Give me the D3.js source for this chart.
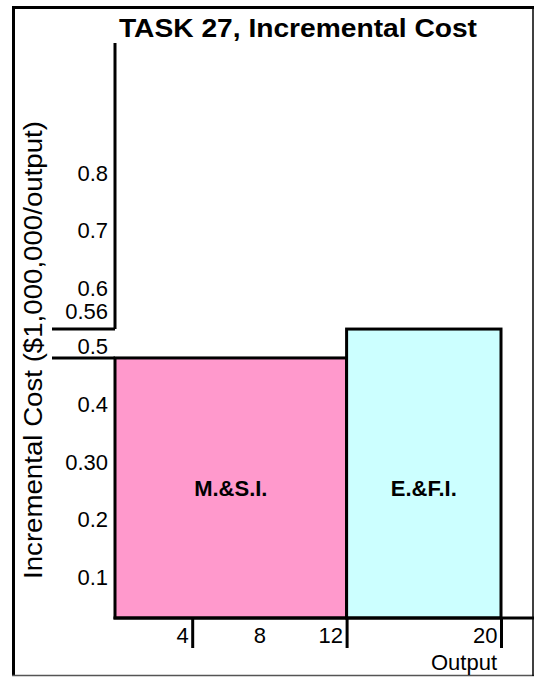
<!DOCTYPE html>
<html>
<head>
<meta charset="utf-8">
<script src="https://cdn.jsdelivr.net/npm/d3@7"></script>
<style>
  body { margin: 0; background: #fff; }
  svg text { font-family: Arial, "Liberation Sans", sans-serif; fill: #000; }
</style>
</head>
<body>
<svg id="chart" width="534" height="677"></svg>
<script>
// chart data
var segNames = ["M.&S.I.", "E.&F.I."];
var segStart = [0, 12];
var segEnd = [12, 20];
var segCost = [0.48, 0.53];
var segColors = ["#ff99cc", "#ccffff"];

var yTickValues = [0.1, 0.2, 0.3, 0.4, 0.5, 0.56, 0.6, 0.7, 0.8];
var yTickLabels = ["0.1", "0.2", "0.30", "0.4", "0.5", "0.56", "0.6", "0.7", "0.8"];
var xTickValues = [4, 8, 12, 20];
var xTickLabels = ["4", "8", "12", "20"];

var svg = d3.select("#chart");

// outer frame: thick left and top, thin bottom
svg.append("path")
  .attr("d", "M13.5,676 V7.5 H534")
  .style("fill", "none")
  .style("stroke", "#000")
  .style("stroke-width", 3);
svg.append("line")
  .attr("x1", 12).attr("x2", 534)
  .attr("y1", 675.5).attr("y2", 675.5)
  .style("stroke", "#555")
  .style("stroke-width", 1.5);
svg.append("line")
  .attr("x1", 533).attr("x2", 533)
  .attr("y1", 7).attr("y2", 676)
  .style("stroke", "#000")
  .style("stroke-width", 1.5);

// scales
var xScale = d3.scaleLinear().domain([0, 20]).range([115, 501]);
var yScale = d3.scaleLinear().domain([0.03, 1.025]).range([618, 43]);

// title
svg.append("text")
  .attr("x", 298).attr("y", 37)
  .attr("text-anchor", "middle")
  .attr("textLength", 358)
  .attr("lengthAdjust", "spacingAndGlyphs")
  .style("font-size", "26px")
  .style("font-weight", "bold")
  .text("TASK 27, Incremental Cost");

// y axis title
svg.append("text")
  .attr("transform", "translate(42," + 350 + ") rotate(-90)")
  .attr("text-anchor", "middle")
  .attr("textLength", 458)
  .attr("lengthAdjust", "spacingAndGlyphs")
  .style("font-size", "25px")
  .text("Incremental Cost ($1,000,000/output)");

// bars
svg.selectAll(".seg")
  .data(segNames)
  .enter().append("rect")
  .attr("class", "seg")
  .attr("x", function(d, i) { return xScale(segStart[i]); })
  .attr("y", function(d, i) { return yScale(segCost[i]); })
  .attr("width", function(d, i) { return xScale(segEnd[i]) - xScale(segStart[i]); })
  .attr("height", function(d, i) { return yScale.range()[0] - yScale(segCost[i]); })
  .style("fill", function(d, i) { return segColors[i]; })
  .style("stroke", "#000")
  .style("stroke-width", 3);

svg.selectAll(".segLabel")
  .data(segNames)
  .enter().append("text")
  .attr("class", "segLabel")
  .attr("x", function(d, i) { return (xScale(segStart[i]) + xScale(segEnd[i])) / 2; })
  .attr("y", 496)
  .attr("text-anchor", "middle")
  .style("font-size", "22px")
  .style("font-weight", "bold")
  .text(function(d) { return d; });

// leader lines from the cost levels back to the left
svg.selectAll(".leader")
  .data(segCost)
  .enter().append("line")
  .attr("class", "leader")
  .attr("x1", 52)
  .attr("x2", xScale(0))
  .attr("y1", function(d) { return yScale(d); })
  .attr("y2", function(d) { return yScale(d); })
  .style("stroke", "#000")
  .style("stroke-width", 3);

// y axis: line only above the higher bar
svg.append("line")
  .attr("x1", xScale(0)).attr("x2", xScale(0))
  .attr("y1", yScale.range()[1])
  .attr("y2", yScale(d3.max(segCost)))
  .style("stroke", "#000")
  .style("stroke-width", 3);

var yAxis = d3.axisLeft(yScale)
  .tickValues(yTickValues)
  .tickFormat(function(d, i) { return yTickLabels[i]; })
  .tickSize(0)
  .tickPadding(7);

var gy = svg.append("g")
  .attr("transform", "translate(" + xScale(0) + ",0)")
  .call(yAxis);
gy.select(".domain").remove();
gy.selectAll("text")
  .style("font-size", "22px")
  .style("font-family", "Arial, 'Liberation Sans', sans-serif");

// x axis
svg.append("line")
  .attr("x1", xScale(0) - 1.5).attr("x2", 534)
  .attr("y1", yScale.range()[0]).attr("y2", yScale.range()[0])
  .style("stroke", "#000")
  .style("stroke-width", 3);

var xAxis = d3.axisBottom(xScale)
  .tickValues(xTickValues)
  .tickFormat(function(d, i) { return xTickLabels[i]; })
  .tickSize(30)
  .tickSizeOuter(0);

var gx = svg.append("g")
  .attr("transform", "translate(0," + yScale.range()[0] + ")")
  .call(xAxis);
gx.select(".domain").remove();
gx.selectAll(".tick line")
  .style("stroke", "#000")
  .style("stroke-width", 3)
  .style("display", function(d) { return d == 8 ? "none" : null; });
gx.selectAll(".tick text")
  .attr("x", -4)
  .attr("y", 25)
  .attr("dy", 0)
  .attr("text-anchor", "end")
  .style("font-size", "22px")
  .style("font-family", "Arial, 'Liberation Sans', sans-serif");

// x axis title
svg.append("text")
  .attr("x", 497).attr("y", 670)
  .attr("text-anchor", "end")
  .style("font-size", "22px")
  .text("Output");
</script>
</body>
</html>
